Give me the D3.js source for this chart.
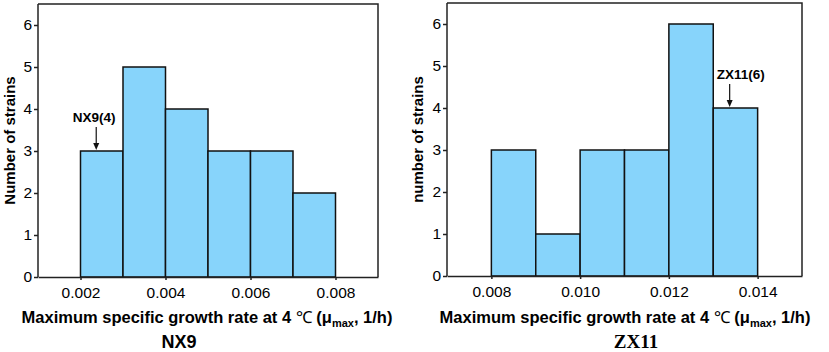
<!DOCTYPE html>
<html>
<head>
<meta charset="utf-8">
<script src="https://cdn.jsdelivr.net/npm/d3@7"></script>
<style>
  body { margin:0; background:#fff; }
  text { font-family: Arial, "Liberation Sans", sans-serif; }
</style>
</head>
<body>
<svg id="viz-svg" width="829" height="352"></svg>
<script>
// bin edges and counts
var nx9Edges  = [0.002, 0.003, 0.004, 0.005, 0.006, 0.007, 0.008]
  , nx9Counts = [3, 5, 4, 3, 3, 2]
  , nx9Ticks  = [0.002, 0.004, 0.006, 0.008]
  , zx11Edges  = [0.008, 0.009, 0.010, 0.011, 0.012, 0.013, 0.014]
  , zx11Counts = [3, 1, 3, 3, 6, 4]
  , zx11Ticks  = [0.008, 0.010, 0.012, 0.014]
  , yTicks = [0, 1, 2, 3, 4, 5, 6]
  ;

var svg = d3.select("#viz-svg")
  , barFill = "#87d4fb";

function histPanel(opt){
  var g = svg.append("g")
    , x = d3.scaleLinear().domain(opt.xDomain).range([opt.left, opt.right])
    , y = d3.scaleLinear().domain([0, 6.5]).range([opt.bottom, opt.top]);

  var bins = opt.counts.map(function(c, i){
    return {x0: opt.edges[i], x1: opt.edges[i+1], n: c};
  });

  g.selectAll(".bar")
    .data(bins)
    .enter().append("rect")
    .attr("class", "bar")
    .attr("x", function(d){ return x(d.x0); })
    .attr("y", function(d){ return y(d.n); })
    .attr("width", function(d){ return x(d.x1) - x(d.x0); })
    .attr("height", function(d){ return y(0) - y(d.n); })
    .attr("fill", barFill)
    .attr("stroke", "#111")
    .attr("stroke-width", 1.5);

  // frame: top and right
  g.append("path")
    .attr("d", "M" + opt.left + "," + opt.top + "H" + opt.right + "V" + opt.bottom)
    .attr("fill", "none")
    .attr("stroke", "#222")
    .attr("stroke-width", 1.5);

  var xAxis = g.append("g")
    .attr("transform", "translate(0," + opt.bottom + ")")
    .call(d3.axisBottom(x).tickValues(opt.ticks).tickFormat(d3.format(".3f")).tickSize(3).tickSizeOuter(0));
  var yAxis = g.append("g")
    .attr("transform", "translate(" + opt.left + ",0)")
    .call(d3.axisLeft(y).tickValues(yTicks).tickFormat(d3.format("d")).tickSize(4).tickSizeOuter(0));

  [xAxis, yAxis].forEach(function(a){
    a.select(".domain").attr("stroke", "#222").attr("stroke-width", 1.5);
    a.selectAll(".tick line").attr("stroke", "#222").attr("stroke-width", 1.5);
    a.selectAll(".tick text").attr("fill", "#000").style("font-size", "15.5px")
      .style("font-family", "Arial, 'Liberation Sans', sans-serif");
  });
  xAxis.selectAll(".tick text").attr("dy", "0.71em").attr("y", 10);
  yAxis.selectAll(".tick text").attr("x", -6);
  yAxis.select(".domain").attr("d", "M0," + opt.bottom + "V" + opt.top);

  // y title
  g.append("text")
    .attr("transform", "translate(" + opt.yTitleX + "," + ((opt.top + opt.bottom)/2) + ") rotate(-90)")
    .attr("text-anchor", "middle")
    .attr("dy", "0.35em")
    .style("font-size", "15px")
    .style("font-weight", "bold")
    .text(opt.yTitle);

  // x title
  var xt = g.append("text")
    .attr("x", opt.xTitleX)
    .attr("y", 323)
    .attr("text-anchor", "middle")
    .style("font-size", "16.5px")
    .style("font-weight", "bold");
  xt.append("tspan").text("Maximum specific growth rate at 4 ");
  xt.append("tspan").style("font-weight", "normal").text("\u2103");
  xt.append("tspan").text(" (\u03bc");
  xt.append("tspan").attr("dy", 4).style("font-size", "11px").text("max");
  xt.append("tspan").attr("dy", -4).text(", 1/h)");

  // panel label
  g.append("text")
    .attr("x", opt.labelX)
    .attr("y", 348)
    .attr("text-anchor", "middle")
    .style("font-size", opt.labelSerif ? "19px" : "18px")
    .style("font-weight", "bold")
    .style("font-family", opt.labelSerif ? "'Liberation Serif', 'Times New Roman', serif" : "Arial, 'Liberation Sans', sans-serif")
    .text(opt.label);

  // annotation arrow
  var ax = x(opt.arrowAt)
    , ay = y(opt.arrowCount);
  g.append("text")
    .attr("x", ax + opt.noteShift)
    .attr("y", ay - 29)
    .attr("text-anchor", "middle")
    .style("font-size", "13.5px")
    .style("font-weight", "bold")
    .text(opt.note);
  g.append("line")
    .attr("x1", ax).attr("x2", ax)
    .attr("y1", ay - 24).attr("y2", ay - 6)
    .attr("stroke", "#111").attr("stroke-width", 1.2);
  g.append("path")
    .attr("d", "M" + (ax - 3) + "," + (ay - 8) + "L" + (ax + 3) + "," + (ay - 8) + "L" + ax + "," + (ay - 1) + "Z")
    .attr("fill", "#111");
}

histPanel({
  edges: nx9Edges, counts: nx9Counts, ticks: nx9Ticks,
  xDomain: [0.001, 0.009],
  left: 38, right: 378, top: 4, bottom: 277,
  yTitle: "Number of strains", yTitleX: 10,
  xTitleX: 207, label: "NX9", labelX: 179, labelSerif: false,
  arrowAt: 0.00237, arrowCount: 3, note: "NX9(4)", noteShift: -2
});

histPanel({
  edges: zx11Edges, counts: zx11Counts, ticks: zx11Ticks,
  xDomain: [0.007, 0.015],
  left: 447, right: 802, top: 3, bottom: 276,
  yTitle: "number of strains", yTitleX: 418,
  xTitleX: 625, label: "ZX11", labelX: 636, labelSerif: true,
  arrowAt: 0.01337, arrowCount: 4, note: "ZX11(6)", noteShift: 11
});
</script>
</body>
</html>
